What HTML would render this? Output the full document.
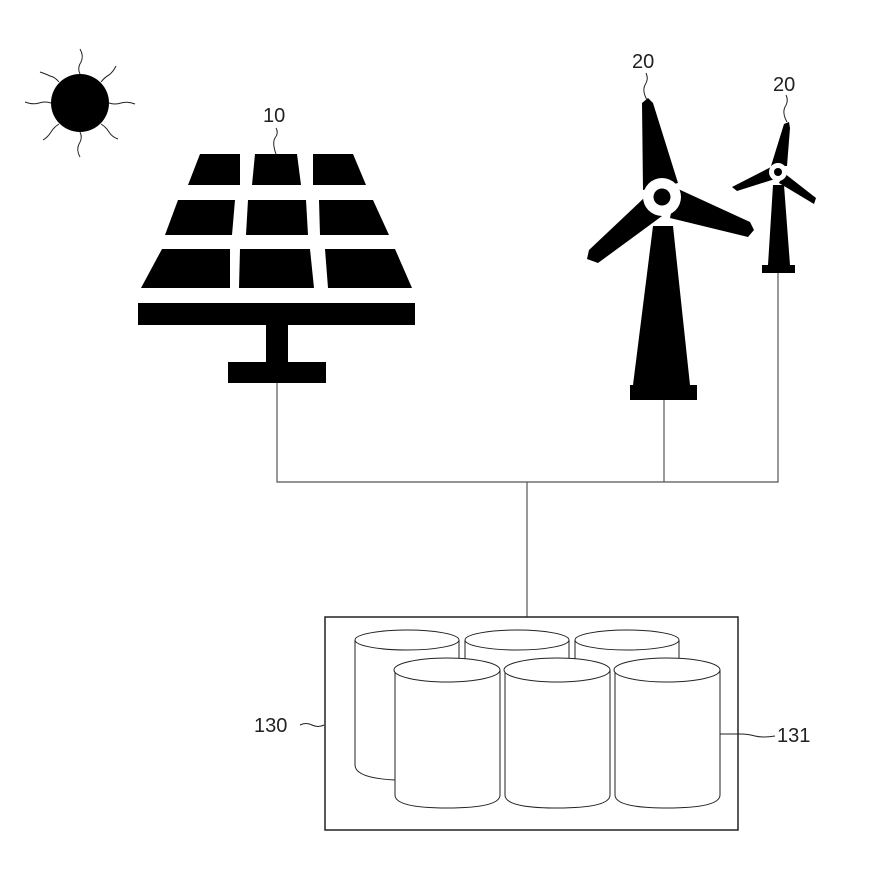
<!DOCTYPE html>
<html><head><meta charset="utf-8"><style>
html,body{margin:0;padding:0;background:#fff}
svg{display:block}
text{font-family:"Liberation Sans",sans-serif;font-size:20px;fill:#222}
</style></head><body>
<svg width="877" height="877" viewBox="0 0 877 877" xmlns="http://www.w3.org/2000/svg">
<circle cx="80" cy="103" r="29" fill="#000"/>
<g stroke="#222" stroke-width="1" fill="none">
<path d="M80 74 q-3 -6 1 -12 q3 -6 -1 -13"/>
<path d="M80 132 q3 6 -1 12 q-3 6 1 13"/>
<path d="M51 103 q-6 -2 -12 0 q-6 2 -14 -1"/>
<path d="M109 103 q6 2 12 0 q6 -2 14 1"/>
<path d="M59 82 q-4 -5 -9 -6 q-4 -2 -10 -4"/>
<path d="M101 82 q4 -5 8 -7 q4 -3 7 -9"/>
<path d="M59 124 q-5 3 -8 8 q-3 5 -8 8"/>
<path d="M101 124 q5 3 8 8 q3 5 9 7"/>
</g>
<g fill="#000">
<polygon points="200,154 240,154 240,185 188,185"/>
<polygon points="255,154 297,154 301,185 252,185"/>
<polygon points="313,154 353,154 366,185 313,185"/>
<polygon points="178,200 235,200 232,235 165,235"/>
<polygon points="248,200 306,200 308,235 246,235"/>
<polygon points="319,200 373,200 389,235 320,235"/>
<polygon points="162,249 230,249 230,288 141,288"/>
<polygon points="240,249 310,249 314,288 239,288"/>
<polygon points="325,249 395,249 412,288 328,288"/>
<rect x="138" y="303" width="277" height="22"/>
<rect x="266" y="325" width="22" height="38"/>
<rect x="228" y="362" width="98" height="21"/>
</g>
<text x="263" y="122">10</text>
<path d="M276 128 q3 5 -1 10 q-3 5 1 16" stroke="#222" fill="none"/>
<g fill="#000">
<polygon points="653,226 673,226 690,385 633,385"/>
<rect x="630" y="385" width="67" height="15"/>
<polygon points="642,103 648,98 653,103 678,183 658,188 643,190"/>
<polygon points="676,188 750,222 754,230 748,237 670,218"/>
<polygon points="644,198 662,216 598,263 587,259 589,250"/>
</g>
<circle cx="662" cy="197" r="19" fill="#fff"/>
<circle cx="662" cy="197" r="8.5" fill="#000"/>
<text x="632" y="68">20</text>
<path d="M646 73 q3 6 -1 12 q-3 6 2 15" stroke="#222" fill="none"/>
<g fill="#000">
<polygon points="773,185 784,185 790,265 768,265"/>
<rect x="762" y="265" width="33" height="8"/>
<polygon points="784,124 789,122 790,128 787,166 771,166"/>
<polygon points="784,173 816,198 814,204 779,183"/>
<polygon points="771,167 775,179 737,191 732,187"/>
</g>
<circle cx="778" cy="172" r="9" fill="#fff"/>
<circle cx="778" cy="172" r="4" fill="#000"/>
<text x="773" y="91">20</text>
<path d="M786 95 q3 6 -1 12 q-3 6 2 15" stroke="#222" fill="none"/>
<g stroke="#555" stroke-width="1.2" fill="none">
<path d="M277 383 V482 H778 V273"/>
<path d="M664 400 V482"/>
<path d="M527 482 V617"/>
</g>
<rect x="325" y="617" width="413" height="213" fill="#fff" stroke="#222" stroke-width="1.5"/>
<g stroke="#222" stroke-width="1" fill="#fff">
<path d="M355 640 V765 Q355 778 395 780"/>
<path d="M459 640 V662 M465 640 V662 M569 640 V662 M575 640 V662 M679 640 V660"/>
<ellipse cx="407" cy="640" rx="52" ry="10"/>
<ellipse cx="517" cy="640" rx="52" ry="10"/>
<ellipse cx="627" cy="640" rx="52" ry="10"/>
<path d="M395 670 V795 Q395 808 447 808 Q500 808 500 795 V670 Z"/>
<ellipse cx="447" cy="670" rx="53" ry="12"/>
<path d="M505 670 V795 Q505 808 557 808 Q610 808 610 795 V670 Z"/>
<ellipse cx="557" cy="670" rx="53" ry="12"/>
<path d="M615 670 V795 Q615 808 667 808 Q720 808 720 795 V670 Z"/>
<ellipse cx="667" cy="670" rx="53" ry="12"/>
</g>
<text x="254" y="732">130</text>
<path d="M300 725 q6 -3 12 0 q6 3 12 0" stroke="#222" fill="none"/>
<text x="777" y="742">131</text>
<path d="M720 734 h20 q8 0 15 2 q8 2 20 0" stroke="#222" fill="none"/>
</svg>
</body></html>
